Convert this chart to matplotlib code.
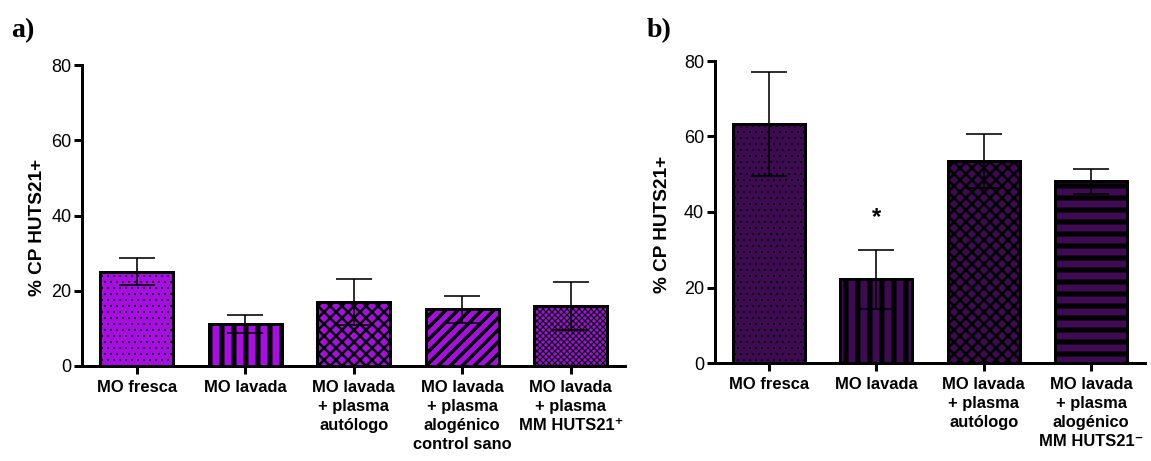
import matplotlib
matplotlib.use("Agg")
import matplotlib.pyplot as plt
import numpy as np

# panel a
labels_a = ["MO fresca", "MO lavada", "MO lavada\n+ plasma\nautólogo",
            "MO lavada\n+ plasma\nalogénico\ncontrol sano",
            "MO lavada\n+ plasma\nMM HUTS21\u207a"]
values_a = [25.1, 11.1, 17.1, 15.1, 16.0]
errors_a = [3.6, 2.4, 6.1, 3.6, 6.4]
hatches_a = ["..", "|", "xx", "//", "xxxx"]
hatch_lw_a = [0.8, 5, 2.5, 3.5, 1.2]

# panel b
labels_b = ["MO fresca", "MO lavada", "MO lavada\n+ plasma\nautólogo",
            "MO lavada\n+ plasma\nalogénico\nMM HUTS21\u207b"]
values_b = [63.3, 22.2, 53.5, 48.2]
errors_b = [13.7, 7.8, 7.2, 3.3]
hatches_b = ["..", "|", "xx", "-"]
hatch_lw_b = [0.8, 5, 2.5, 5]

color_a = "#a80ee4"
color_b = "#3e0a52"

plt.rcParams['font.family'] = ['Liberation Sans', 'DejaVu Sans']

W, H = 1151, 461
fig = plt.figure(figsize=(W / 72, H / 72), dpi=72)


def draw_panel(ax, labels, values, errors, hatches, hatch_lws, color):
    x = np.arange(len(values))
    bars = ax.bar(x, values, width=0.67, color=color, edgecolor="black",
                  linewidth=3, zorder=2)
    for b, h, lw in zip(bars, hatches, hatch_lws):
        b.set_hatch(h)
        if hasattr(b, "set_hatch_linewidth"):
            b.set_hatch_linewidth(lw)
    ax.errorbar(x, values, yerr=errors, fmt="none", ecolor="black",
                elinewidth=1.6, capsize=18, capthick=1.6, zorder=3)
    ax.set_xlim(-0.5, len(values) - 0.5)
    ax.set_ylim(0, 80)
    ax.set_yticks([0, 20, 40, 60, 80])
    ax.set_xticks(x)
    ax.set_xticklabels(labels, fontsize=16.5, fontweight="bold", linespacing=1.32)
    for s in ["top", "right"]:
        ax.spines[s].set_visible(False)
    for s in ["left", "bottom"]:
        ax.spines[s].set_linewidth(3)
    ax.tick_params(axis="y", direction="out", length=8, width=3, labelsize=18, pad=3)
    ax.tick_params(axis="x", direction="out", length=8, width=3, pad=6)
    ax.set_ylabel("% CP HUTS21+", fontsize=19, fontweight="bold")


ax_a = fig.add_axes([82.5 / W, 1 - 366 / H, 542.5 / W, 301 / H])
draw_panel(ax_a, labels_a, values_a, errors_a, hatches_a, hatch_lw_a, color_a)
ax_a.yaxis.set_label_coords(-36 / 542.5, 0.46)

ax_b = fig.add_axes([715 / W, 1 - 363 / H, 430 / W, 302 / H])
draw_panel(ax_b, labels_b, values_b, errors_b, hatches_b, hatch_lw_b, color_b)
ax_b.yaxis.set_label_coords(-44 / 430, 0.46)
ax_b.text(1, 38.5, "*", ha="center", va="center", fontsize=24, fontweight="bold")

fig.text(11 / W, 1 - 37 / H, "a)", fontsize=28, fontweight="bold",
         family="Liberation Serif", va="baseline")
fig.text(647 / W, 1 - 37 / H, "b)", fontsize=28, fontweight="bold",
         family="Liberation Serif", va="baseline")

fig.savefig("out.png", dpi=72)
